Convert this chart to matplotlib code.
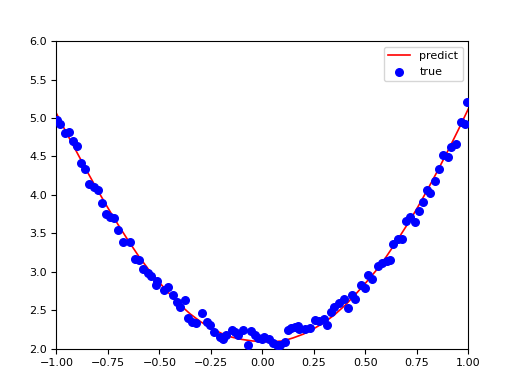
import numpy as np
import matplotlib
matplotlib.use("Agg")
import matplotlib.pyplot as plt


X_TRUE = [-0.995, -0.985, -0.96, -0.94, -0.92, -0.90, -0.88, -0.86, -0.84, -0.82,
          -0.80, -0.78, -0.76, -0.74, -0.72, -0.70, -0.675, -0.643, -0.62, -0.60,
          -0.58, -0.555, -0.54, -0.51, -0.515, -0.48, -0.457, -0.433, -0.417, -0.40,
          -0.376, -0.36, -0.34, -0.32, -0.295, -0.27, -0.255, -0.235, -0.208, -0.19,
          -0.176, -0.15, -0.135, -0.12, -0.095, -0.07, -0.054, -0.038, -0.022, 0.0,
          0.01, 0.03, 0.05, 0.07, 0.085, 0.11, 0.125, 0.14, 0.158, 0.174,
          0.18, 0.206, 0.23, 0.255, 0.276, 0.297, 0.313, 0.334, 0.35, 0.37,
          0.394, 0.415, 0.434, 0.452, 0.477, 0.496, 0.515, 0.532, 0.562, 0.579,
          0.603, 0.619, 0.635, 0.66, 0.68, 0.697, 0.716, 0.74, 0.76, 0.778,
          0.797, 0.816, 0.84, 0.858, 0.878, 0.90, 0.918, 0.94, 0.962, 0.983,
          0.995]
Y_TRUE = [4.97, 4.92, 4.80, 4.82, 4.70, 4.63, 4.42, 4.34, 4.14, 4.10,
          4.07, 3.89, 3.75, 3.71, 3.70, 3.54, 3.39, 3.39, 3.17, 3.15,
          3.03, 2.99, 2.94, 2.88, 2.83, 2.76, 2.80, 2.70, 2.61, 2.54,
          2.63, 2.40, 2.35, 2.33, 2.46, 2.35, 2.31, 2.21, 2.15, 2.13,
          2.18, 2.24, 2.22, 2.18, 2.24, 2.05, 2.23, 2.18, 2.14, 2.13,
          2.15, 2.13, 2.07, 2.05, 2.05, 2.08, 2.24, 2.27, 2.28, 2.30,
          2.26, 2.25, 2.27, 2.37, 2.36, 2.39, 2.31, 2.47, 2.54, 2.59,
          2.65, 2.53, 2.70, 2.64, 2.83, 2.79, 2.96, 2.91, 3.07, 3.12,
          3.14, 3.15, 3.36, 3.43, 3.43, 3.66, 3.71, 3.65, 3.79, 3.91,
          4.07, 4.03, 4.18, 4.34, 4.52, 4.49, 4.62, 4.66, 4.95, 4.92,
          5.21]

# model prediction
X_PRED = [-1.0, -0.95, -0.9, -0.85, -0.8, -0.75, -0.7, -0.65, -0.6, -0.55,
          -0.5, -0.45, -0.4, -0.35, -0.3, -0.25, -0.2, -0.15, -0.1, -0.05,
          0.0, 0.05, 0.1, 0.15, 0.2, 0.25, 0.3, 0.35, 0.4, 0.45,
          0.5, 0.55, 0.6, 0.65, 0.7, 0.75, 0.8, 0.85, 0.9, 0.95, 1.0]
Y_PRED = [5.06, 4.80, 4.55, 4.30, 4.06, 3.83, 3.61, 3.40, 3.20, 3.02,
          2.86, 2.71, 2.57, 2.45, 2.35, 2.27, 2.20, 2.15, 2.12, 2.10,
          2.09, 2.09, 2.10, 2.14, 2.19, 2.26, 2.34, 2.44, 2.56, 2.70,
          2.85, 3.01, 3.19, 3.39, 3.60, 3.82, 4.06, 4.31, 4.57, 4.84, 5.12]

plt.rcParams['font.size'] = 8

fig = plt.figure(figsize=(5.13, 3.81), dpi=100)
fig.subplots_adjust(left=0.110, right=0.913, bottom=0.085, top=0.892)
ax = fig.add_subplot(111)

ax.plot(X_PRED, Y_PRED, color='red', linewidth=1.2, label='predict')
ax.scatter(X_TRUE, Y_TRUE, color='blue', s=30, label='true', zorder=3)

ax.set_xlim(-1, 1)
ax.set_ylim(2, 6)
ax.legend(loc='upper right')

fig.savefig('out.png', dpi=100)
